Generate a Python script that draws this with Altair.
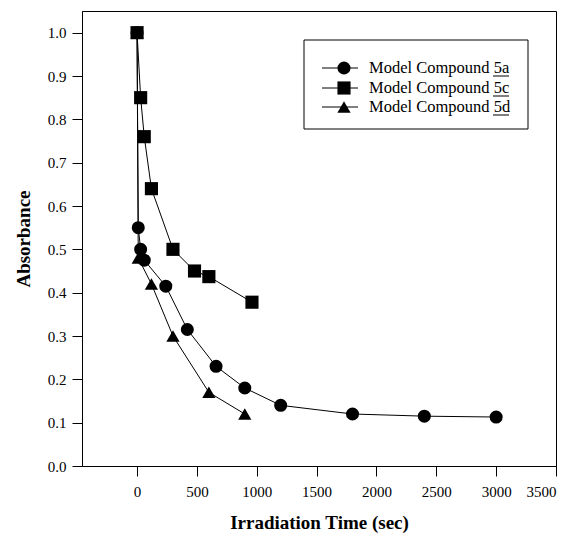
import altair as alt
import pandas as pd

# ---- data ----
series = ["Model Compound 5a", "Model Compound 5c", "Model Compound 5d"]
t_5a = [0, 10, 30, 60, 240, 420, 660, 900, 1200, 1800, 2400, 3000]
a_5a = [1.0, 0.55, 0.50, 0.475, 0.415, 0.315, 0.23, 0.18, 0.14, 0.12, 0.115, 0.113]
t_5c = [0, 30, 60, 120, 300, 480, 600, 960]
a_5c = [1.0, 0.85, 0.76, 0.64, 0.50, 0.45, 0.437, 0.378]
t_5d = [0, 10, 120, 300, 600, 900]
a_5d = [1.0, 0.48, 0.42, 0.30, 0.17, 0.12]
x_ticks = [0, 500, 1000, 1500, 2000, 2500, 3000, 3500]
y_ticks = [0.0, 0.1, 0.2, 0.3, 0.4, 0.5, 0.6, 0.7, 0.8, 0.9, 1.0]
shapes = ["circle", "square", "triangle-up"]
sizes = [170, 175, 210]

rows = []
for name, ts, vs in zip(series, [t_5a, t_5c, t_5d], [a_5a, a_5c, a_5d]):
    for t, v in zip(ts, vs):
        rows.append({"series": name, "t": t, "a": v})
df = pd.DataFrame(rows)

FONT = "Liberation Serif"

xs = alt.Scale(domain=[-460, 3500], nice=False, zero=False)
ys = alt.Scale(domain=[0, 1.05], nice=False)
shape_scale = alt.Scale(domain=series, range=shapes)
size_scale = alt.Scale(domain=series, range=sizes)

base = alt.Chart(df).encode(
    x=alt.X("t:Q", scale=xs,
            axis=alt.Axis(values=x_ticks, title="Irradiation Time (sec)", format="d")),
    y=alt.Y("a:Q", scale=ys,
            axis=alt.Axis(values=y_ticks, title="Absorbance", format=".1f")),
)

lines = base.mark_line(color="black", strokeWidth=1).encode(
    detail="series:N", order="t:Q")
points = base.mark_point(filled=True, color="black", opacity=1).encode(
    shape=alt.Shape("series:N", scale=shape_scale, legend=None),
    size=alt.Size("series:N", scale=size_scale, legend=None),
)

# ---- manual legend (pixel placement inside the plot area) ----
leg_df = pd.DataFrame({"series": series, "label": series})
box = alt.Chart(pd.DataFrame({"k": [0]})).mark_rect(
    fill="white", stroke="black", strokeWidth=1
).encode(x=alt.value(222), x2=alt.value(446), y=alt.value(29), y2=alt.value(118))

leg_rows_y = [57, 77, 96]
legend_layers = [box]
for name, ry in zip(series, leg_rows_y):
    lb = alt.Chart(leg_df).transform_filter(alt.datum.series == name)
    legend_layers.append(lb.mark_rule(color="black", strokeWidth=1).encode(
        x=alt.value(240), x2=alt.value(276), y=alt.value(ry)))
    legend_layers.append(lb.mark_point(filled=True, color="black", opacity=1).encode(
        x=alt.value(262), y=alt.value(ry),
        shape=alt.Shape("series:N", scale=shape_scale, legend=None),
        size=alt.Size("series:N", scale=size_scale, legend=None)))
    legend_layers.append(lb.mark_text(align="left", baseline="middle", font=FONT,
                                      fontSize=16.5, color="black").encode(
        x=alt.value(287), y=alt.value(ry), text="label:N"))
    legend_layers.append(lb.mark_rule(color="black", strokeWidth=1).encode(
        x=alt.value(411), x2=alt.value(427), y=alt.value(ry + 8)))

chart = alt.layer(lines, points, *legend_layers).properties(
    width=474, height=455,
    autosize=alt.AutoSizeParams(type="none"),
    padding={"left": 82, "top": 11, "right": 17, "bottom": 72},
).configure_view(
    stroke="black", strokeWidth=1
).configure_axis(
    grid=False, domainColor="black", domainWidth=1, tickColor="black", tickWidth=1,
    tickSize=10, labelFont=FONT, labelFontSize=15, labelColor="black",
    titleFont=FONT, titleFontSize=19, titleFontWeight="bold", titleColor="black",
).configure_axisX(
    labelPadding=8, titlePadding=14
).configure_axisY(
    labelPadding=6, titlePadding=14
)

chart.save("out.html", embed_options={"renderer": "svg", "actions": False})
